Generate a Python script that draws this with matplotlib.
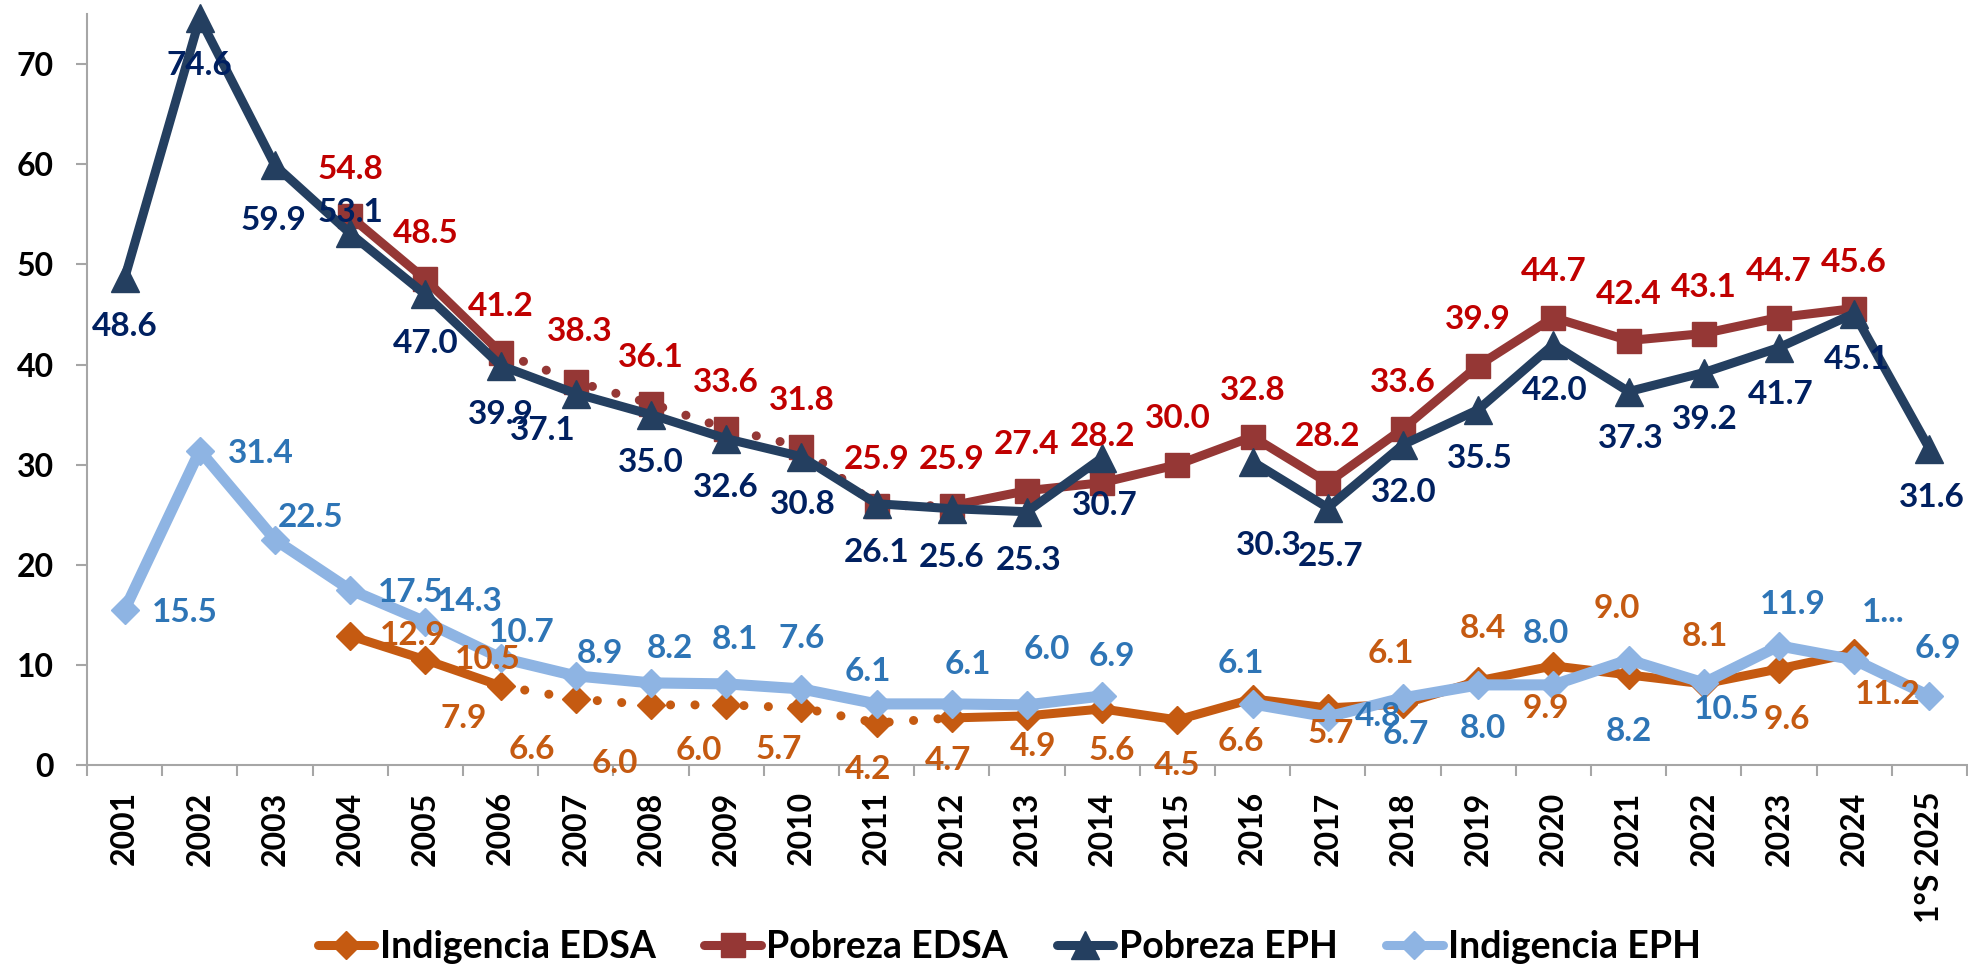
import numpy as np
import matplotlib
matplotlib.use('Agg')
import matplotlib.pyplot as plt
from matplotlib.lines import Line2D

plt.rcParams['font.family'] = ['Lato', 'DejaVu Sans']
plt.rcParams['font.weight'] = 'bold'

nan = np.nan

# categories
years = ['2001', '2002', '2003', '2004', '2005', '2006', '2007', '2008', '2009',
         '2010', '2011', '2012', '2013', '2014', '2015', '2016', '2017', '2018',
         '2019', '2020', '2021', '2022', '2023', '2024', '1°S 2025']

# series (percent)
indigencia_edsa = [nan, nan, nan, 12.9, 10.5, 7.9, 6.6, 6.0, 6.0, 5.7, 4.2, 4.7, 4.9,
                   5.6, 4.5, 6.6, 5.7, 6.1, 8.4, 9.9, 9.0, 8.1, 9.6, 11.2, nan]
pobreza_edsa = [nan, nan, nan, 54.8, 48.5, 41.2, 38.3, 36.1, 33.6, 31.8, 25.9, 25.9, 27.4,
                28.2, 30.0, 32.8, 28.2, 33.6, 39.9, 44.7, 42.4, 43.1, 44.7, 45.6, nan]
pobreza_eph = [48.6, 74.6, 59.9, 53.1, 47.0, 39.9, 37.1, 35.0, 32.6, 30.8, 26.1, 25.6, 25.3,
               30.7, nan, 30.3, 25.7, 32.0, 35.5, 42.0, 37.3, 39.2, 41.7, 45.1, 31.6]
indigencia_eph = [15.5, 31.4, 22.5, 17.5, 14.3, 10.7, 8.9, 8.2, 8.1, 7.6, 6.1, 6.1, 6.0,
                  6.9, nan, 6.1, 4.8, 6.7, 8.0, 8.0, 10.5, 8.2, 11.9, 10.5, 6.9]
# data labels as printed in the original chart
indigencia_eph_text = ['15.5', '31.4', '22.5', '17.5', '14.3', '10.7', '8.9', '8.2', '8.1',
                       '7.6', '6.1', '6.1', '6.0', '6.9', '', '6.1', '4.8', '6.7', '8.0',
                       '8.0', '8.2', '10.5', '11.9', '1...', '6.9']

# EDSA methodology change: dotted stretch
dotted_from, dotted_to = '2006', '2012'

x = np.arange(len(years))
i0, i1 = years.index(dotted_from), years.index(dotted_to)

# label offsets (dx, dy) in reference pixels, converted to points below
off_ind_edsa = [None, None, None, (50, 0), (50, 0), (-29, -26), (-35, -40), (-29, -47),
                (-22, -36), (-18, -33), (-7, -37), (-3, -34), (5, -24), (8, -33), (0, -36),
                (-9, -34), (2, -20), (-10, 40), (4, 42), (-6, -34), (-9, 53), (1, 38),
                (6, -40), (27, -33), None]
off_pob_edsa = [None, None, None] + [(0, 37)] * 3 + [(3, 40)] + [(0, 37)] * 17 + [None]
off_pob_eph = [(0, -38), (0, -38), (-1, -44), (0, 17), (0, -39), (0, -39), (-26, -29),
               (0, -38), (0, -39), (1, -38), (0, -39), (0, -39), (1, -39), (2, -38), None,
               (13, -67), (2, -39), (1, -38), (1, -39), (1, -37), (2, -37), (1, -37),
               (1, -37), (2, -37), (2, -39)]
off_ind_eph = [(48, -2), (49, -2), (28, 18), (48, -2), (35, 16), (17, 20), (19, 18),
               (15, 27), (7, 35), (0, 40), (-7, 26), (13, 31), (16, 44), (8, 31), None,
               (-9, 32), (40, 0), (2, -29), (4, -35), (-6, 41), (0, -57), (18, -21),
               (11, 33), (23, 38), (7, 38)]
PT = 0.904

fig = plt.figure(figsize=(19.68, 9.73), dpi=100)
ax = fig.add_axes([0.0442, 0.2138, 0.9553, 0.7716])


def draw(vals, color, marker, ms, lw, dotted):
    v = np.array(vals, dtype=float)
    if dotted:
        a = v.copy(); a[i0 + 1:] = nan
        b = v.copy(); b[:i0] = nan; b[i1 + 1:] = nan
        c = v.copy(); c[:i1] = nan
        ax.plot(x, a, color=color, lw=lw, solid_capstyle='round')
        ax.plot(x, b, color=color, lw=lw, linestyle=(0, (0.01, 2.7)),
                dash_capstyle='round')
        ax.plot(x, c, color=color, lw=lw, solid_capstyle='round')
    else:
        ax.plot(x, v, color=color, lw=lw, solid_capstyle='round')
    ax.plot(x, v, linestyle='none', marker=marker, ms=ms, color=color, clip_on=False)


def labels(vals, texts, offs, color):
    for xi, v, t, o in zip(x, vals, texts, offs):
        if o is None or np.isnan(v):
            continue
        ax.annotate(t, (xi, v), xytext=(o[0] * PT, o[1] * PT), textcoords='offset points',
                    ha='center', va='center', fontsize=24, fontweight='bold',
                    color=color, zorder=10, annotation_clip=False)


c_ie, c_pe, c_pp, c_ip = '#C55A11', '#953735', '#243F60', '#8EB4E3'
draw(indigencia_edsa, c_ie, 'D', 14, 6.5, True)
draw(pobreza_edsa, c_pe, 's', 17, 6.5, True)
draw(pobreza_eph, c_pp, '^', 20, 6.5, False)
draw(indigencia_eph, c_ip, 'D', 14, 8, False)

fmt = lambda vals: ['' if np.isnan(v) else f'{v:.1f}' for v in vals]
labels(indigencia_edsa, fmt(indigencia_edsa), off_ind_edsa, '#C55A11')
labels(pobreza_edsa, fmt(pobreza_edsa), off_pob_edsa, '#C00000')
labels(pobreza_eph, fmt(pobreza_eph), off_pob_eph, '#002060')
labels(indigencia_eph, indigencia_eph_text, off_ind_eph, '#2E75B6')

ax.set_xlim(-0.5, len(years) - 0.5)
ax.set_ylim(0, 75)
ax.set_yticks(range(0, 71, 10))
ax.set_xticks(x)
ax.set_xticklabels(years, rotation=90, fontsize=23, fontweight='bold')
ax.set_xticks(np.arange(-0.5, len(years), 1), minor=True)
ax.tick_params(axis='x', which='major', length=0, pad=19)
ax.tick_params(axis='x', which='minor', length=8, width=1.5, color='#A6A6A6')
ax.tick_params(axis='y', length=8, width=1.5, color='#A6A6A6', pad=16, labelsize=23)
for s in ['top', 'right']:
    ax.spines[s].set_visible(False)
for s in ['left', 'bottom']:
    ax.spines[s].set_color('#A6A6A6')
    ax.spines[s].set_linewidth(1.5)

handles = [
    Line2D([], [], color=c_ie, lw=6.5, marker='D', ms=14, solid_capstyle='round'),
    Line2D([], [], color=c_pe, lw=6.5, marker='s', ms=17, solid_capstyle='round'),
    Line2D([], [], color=c_pp, lw=6.5, marker='^', ms=20, solid_capstyle='round'),
    Line2D([], [], color=c_ip, lw=6.5, marker='D', ms=14, solid_capstyle='round'),
]
names = ['Indigencia EDSA', 'Pobreza EDSA', 'Pobreza EPH', 'Indigencia EPH']
fig.legend(handles, names, loc='center', bbox_to_anchor=(0.513, 0.027), ncol=4,
           frameon=False, fontsize=27, handlelength=1.5, handletextpad=0.15,
           columnspacing=1.3)

fig.savefig('out.png', dpi=100)
